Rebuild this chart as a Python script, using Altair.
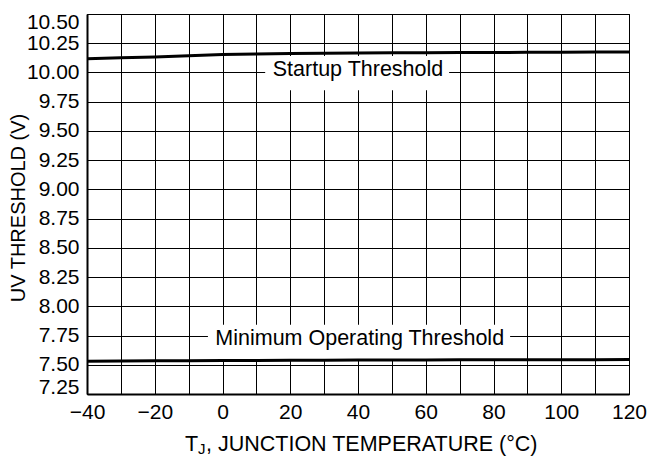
import altair as alt
import pandas as pd

# ---- data ----
temps = [-40, -30, -20, -10, 0, 10, 20, 30, 40, 50, 60, 70, 80, 90, 100, 110, 120]
startup = [10.117, 10.125, 10.132, 10.142, 10.153, 10.158, 10.162, 10.164, 10.166,
           10.168, 10.169, 10.170, 10.171, 10.172, 10.173, 10.174, 10.175]
minimum = [7.530, 7.532, 7.534, 7.535, 7.536, 7.537, 7.538, 7.539, 7.540,
           7.540, 7.541, 7.542, 7.542, 7.543, 7.544, 7.544, 7.545]

x_grid = list(range(-40, 121, 10))
y_ticks = [7.25 + 0.25 * i for i in range(14)]

label_text = ["Startup Threshold", "Minimum Operating Threshold"]
label_x = [40.0, 40.5]
label_y = [10.02, 7.72]
box_x0 = [12.6, -4.3]
box_x1 = [66.9, 84.9]
box_y0 = [9.848, 7.55]
box_y1 = [10.14, 7.842]

title_parts = ["T", "J", ", JUNCTION TEMPERATURE (°C)"]

FONT = "Liberation Sans"

lines_df = pd.DataFrame({
    "temp": temps * 2,
    "v": startup + minimum,
    "series": ["Startup"] * len(temps) + ["Minimum"] * len(temps),
})
labels_df = pd.DataFrame({
    "text": label_text, "x": label_x, "y": label_y,
    "x0": box_x0, "x1": box_x1, "y0": box_y0, "y1": box_y1,
})

xscale = alt.Scale(domain=[-40, 120], nice=False, zero=False)
yscale = alt.Scale(domain=[7.25, 10.5], nice=False, zero=False)

xaxis = alt.Axis(values=x_grid, title="", grid=True, ticks=False, tickSize=0,
                 labelExpr="datum.value % 20 === 0 ? datum.label : ''",
                 labelPadding=7, labelOverlap=False, labelFlush=False, labelFontSize=21)
yaxis = alt.Axis(values=y_ticks, format=".2f", grid=True, ticks=False, tickSize=0,
                 labelPadding=8, labelOverlap=False, labelFontSize=21,
                 labelFlush=True, labelFlushOffset=3,
                 title="UV THRESHOLD (V)", titleFontSize=20, titleFontWeight="normal",
                 titleX=-63, titleY=193.5, titleAngle=270, titleAlign="center",
                 titleBaseline="alphabetic")

lines = alt.Chart(lines_df).mark_line(color="black", strokeWidth=3).encode(
    x=alt.X("temp:Q", scale=xscale, axis=xaxis),
    y=alt.Y("v:Q", scale=yscale, axis=yaxis),
    detail="series:N",
)

boxes = alt.Chart(labels_df).mark_rect(color="white", opacity=1).encode(
    x=alt.X("x0:Q", scale=xscale, axis=xaxis), x2="x1:Q",
    y=alt.Y("y0:Q", scale=yscale, axis=yaxis), y2="y1:Q",
)

texts = alt.Chart(labels_df).mark_text(font=FONT, fontSize=21.5, color="black",
                                       align="center", baseline="middle").encode(
    x=alt.X("x:Q", scale=xscale, axis=xaxis),
    y=alt.Y("y:Q", scale=yscale, axis=yaxis),
    text="text:N",
)

t1 = alt.Chart(pd.DataFrame({"t": [title_parts[0]]})).mark_text(
    font=FONT, fontSize=21.5, color="black", align="left", baseline="alphabetic"
).encode(x=alt.value(98), y=alt.value(437), text="t:N")
t2 = alt.Chart(pd.DataFrame({"t": [title_parts[1]]})).mark_text(
    font=FONT, fontSize=15, color="black", align="left", baseline="alphabetic"
).encode(x=alt.value(111), y=alt.value(440), text="t:N")
t3 = alt.Chart(pd.DataFrame({"t": [title_parts[2]]})).mark_text(
    font=FONT, fontSize=21.5, color="black", align="left", baseline="alphabetic"
).encode(x=alt.value(119), y=alt.value(437), text="t:N")

chart = alt.layer(boxes, lines, texts, t1, t2, t3).properties(
    width=542, height=380,
    autosize=alt.AutoSizeParams(type="none"),
    padding={"left": 79, "top": 6, "right": 18, "bottom": 62},
    background="white",
).configure_view(
    stroke="black", strokeWidth=1
).configure_axis(
    domainColor="black", domainWidth=2, gridColor="black", gridOpacity=1, gridWidth=1,
    labelFont=FONT, labelColor="black", titleFont=FONT, titleColor="black",
)

chart.save("out.html", embed_options={"renderer": "svg", "actions": False})
